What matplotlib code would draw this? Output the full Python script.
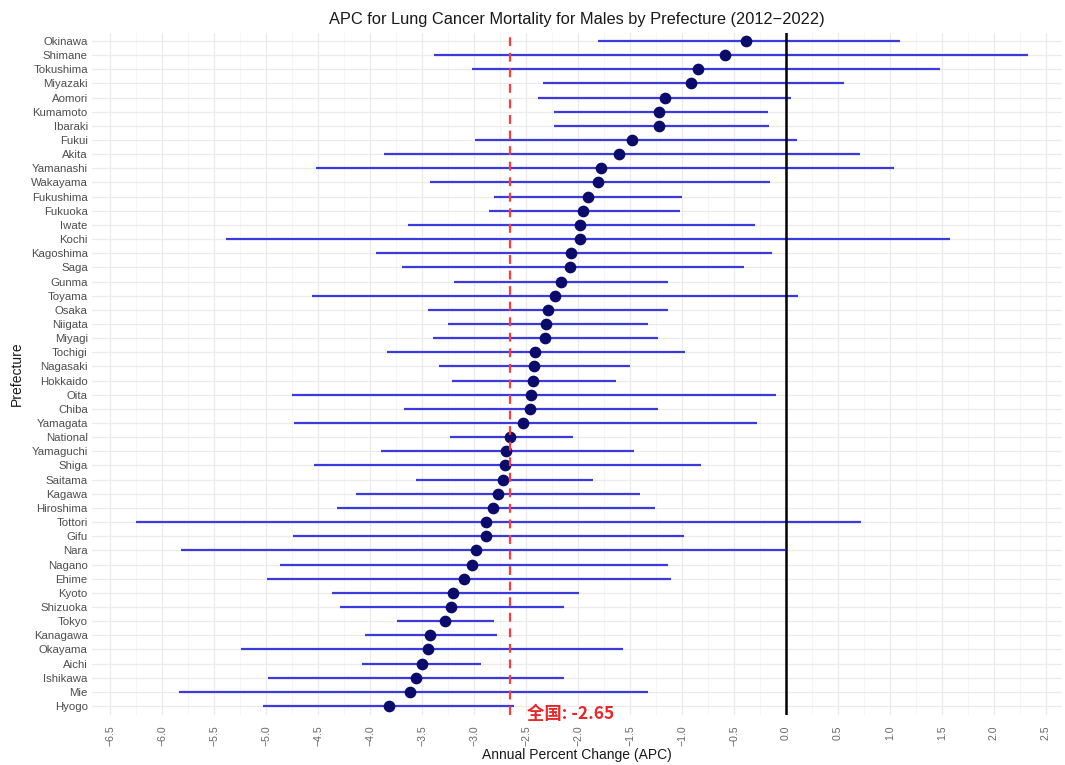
import matplotlib
matplotlib.use("Agg")
import matplotlib.pyplot as plt
import numpy as np
from matplotlib.ticker import MultipleLocator

prefectures = ["Okinawa", "Shimane", "Tokushima", "Miyazaki", "Aomori", "Kumamoto", "Ibaraki",
               "Fukui", "Akita", "Yamanashi", "Wakayama", "Fukushima", "Fukuoka", "Iwate", "Kochi",
               "Kagoshima", "Saga", "Gunma", "Toyama", "Osaka", "Niigata", "Miyagi", "Tochigi",
               "Nagasaki", "Hokkaido", "Oita", "Chiba", "Yamagata", "National", "Yamaguchi", "Shiga",
               "Saitama", "Kagawa", "Hiroshima", "Tottori", "Gifu", "Nara", "Nagano", "Ehime",
               "Kyoto", "Shizuoka", "Tokyo", "Kanagawa", "Okayama", "Aichi", "Ishikawa", "Mie", "Hyogo"]

apc = [-0.38, -0.59, -0.85, -0.91, -1.16, -1.22, -1.22,
       -1.48, -1.61, -1.78, -1.81, -1.90, -1.95, -1.98, -1.98,
       -2.07, -2.08, -2.16, -2.22, -2.29, -2.31, -2.32, -2.41,
       -2.42, -2.43, -2.45, -2.46, -2.53, -2.65, -2.69, -2.70,
       -2.72, -2.77, -2.82, -2.88, -2.88, -2.98, -3.02, -3.10,
       -3.20, -3.22, -3.28, -3.42, -3.44, -3.50, -3.56, -3.62, -3.82]

ci_low = [-1.81, -3.38, -3.02, -2.34, -2.38, -2.23, -2.23,
          -2.99, -3.87, -4.52, -3.42, -2.81, -2.86, -3.63, -5.38,
          -3.94, -3.69, -3.19, -4.56, -3.44, -3.25, -3.39, -3.84,
          -3.34, -3.21, -4.75, -3.67, -4.73, -3.23, -3.89, -4.54,
          -3.56, -4.13, -4.32, -6.25, -4.74, -5.82, -4.87, -4.99,
          -4.37, -4.29, -3.74, -4.05, -5.24, -4.08, -4.98, -5.84, -5.03]

ci_high = [1.10, 2.33, 1.48, 0.56, 0.05, -0.17, -0.16,
           0.11, 0.71, 1.04, -0.15, -1.00, -1.02, -0.30, 1.58,
           -0.13, -0.40, -1.13, 0.12, -1.13, -1.33, -1.23, -0.97,
           -1.50, -1.63, -0.10, -1.23, -0.28, -2.05, -1.46, -0.82,
           -1.86, -1.40, -1.26, 0.72, -0.98, -0.01, -1.13, -1.11,
           -1.99, -2.13, -2.81, -2.78, -1.57, -2.93, -2.13, -1.33, -2.62]

national_apc = -2.65
x_ticks = np.arange(-6.5, 2.51, 0.5)

plt.rcParams['font.family'] = ['Liberation Sans', 'DejaVu Sans']

fig = plt.figure(figsize=(10.65, 7.65), dpi=100)
ax = fig.add_axes([92/1065, 1 - 714.5/765, 970/1065, (714.5 - 32.5)/765])

ypos = np.arange(len(prefectures))

# grid
ax.set_xlim(-6.673, 2.654)
ax.set_ylim(len(prefectures) - 1 + 0.6, -0.6)
ax.set_xticks(x_ticks)
ax.xaxis.set_minor_locator(MultipleLocator(0.25))
ax.set_yticks(ypos)
ax.set_yticklabels(prefectures)
ax.grid(True, which='major', color='#ebebeb', linewidth=0.9, zorder=0)
ax.grid(True, which='minor', axis='x', color='#f3f3f3', linewidth=0.5, zorder=0)
ax.set_axisbelow(True)

for s in ax.spines.values():
    s.set_visible(False)
ax.tick_params(axis='both', which='both', length=0, labelcolor='#4d4d4d')
ax.tick_params(axis='y', labelsize=8.2, pad=3)
ax.tick_params(axis='x', labelsize=7.6, pad=8, labelcolor='#666666')
ax.set_xticklabels([f"{t:.1f}".replace("-", "\u2212") for t in x_ticks], rotation=90)

ax.hlines(ypos, ci_low, ci_high, color='#3a3ade', linewidth=1.6, zorder=2)
ax.scatter(apc, ypos, s=55, color='#0b0b6b', zorder=3)

ax.axvline(0, color='black', linewidth=1.8, zorder=4)
ax.axvline(national_apc, color='#ff3b3b', linewidth=1.6, linestyle=(0, (4, 3)), zorder=4)

ax.text(national_apc + 0.16, len(prefectures) - 1 + 0.55, f"全国: {national_apc:.2f}",
        color='#e82828', fontsize=12.5, fontweight='bold', va='center', ha='left',
        family=['Noto Sans CJK SC', 'DejaVu Sans'], zorder=5)

ax.set_title("APC for Lung Cancer Mortality for Males by Prefecture (2012\u22122022)",
             fontsize=11.8, color='#1a1a1a', pad=6)
ax.set_xlabel("Annual Percent Change (APC)", fontsize=10, color='#1a1a1a', labelpad=1)
ax.set_ylabel("Prefecture", fontsize=10, color='#1a1a1a', labelpad=5)

fig.savefig("out.png", dpi=100, facecolor='white')
